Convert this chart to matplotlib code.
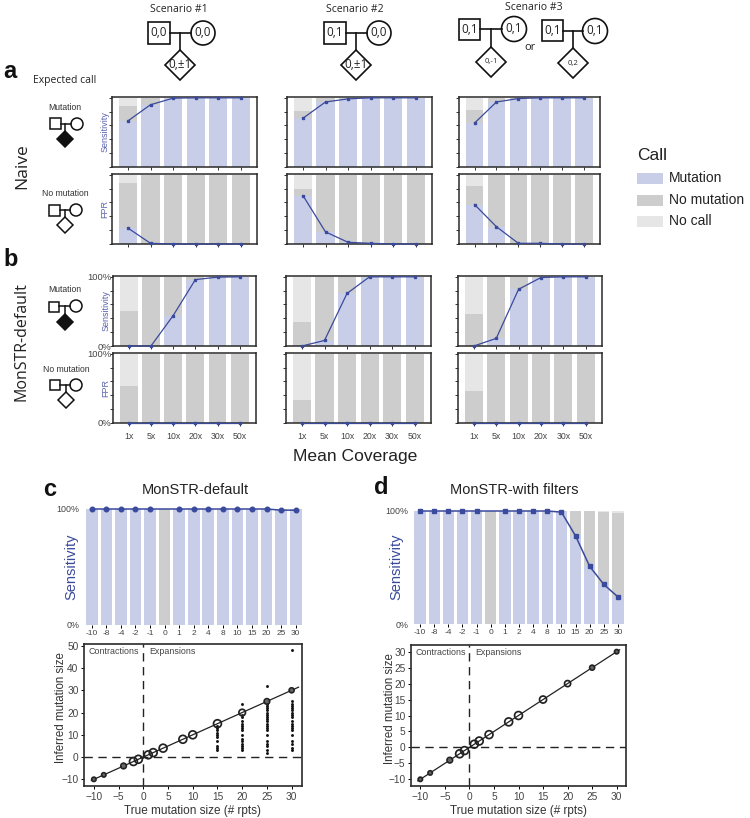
import numpy as np
from matplotlib import pyplot as plt
from matplotlib.patches import Rectangle, Circle, Polygon

W, H = 750, 818
BLUE = '#c9cee8'
GRAY = '#cdcdcd'
LIGHT = '#e6e6e6'
NAVY = '#3a4a9c'
TXT = '#444444'

coverage = ['1x', '5x', '10x', '20x', '30x', '50x']

# naive, sensitivity
naive_sens_1 = [0.667, 0.90, 0.995, 1.0, 1.0, 1.0]
naive_sens_2 = [0.705, 0.94, 0.985, 1.0, 1.0, 1.0]
naive_sens_3 = [0.635, 0.94, 0.99, 1.0, 1.0, 1.0]
naive_sens_nomut_1 = [0.218, 0.10, 0.005, 0, 0, 0]
naive_sens_nomut_2 = [0.105, 0.06, 0.015, 0, 0, 0]
naive_sens_nomut_3 = [0.195, 0.06, 0.01, 0, 0, 0]
# naive, FPR
naive_fpr_1 = [0.23, 0.01, 0, 0, 0, 0]
naive_fpr_2 = [0.70, 0.175, 0.025, 0.01, 0, 0]
naive_fpr_3 = [0.57, 0.25, 0.01, 0.01, 0, 0]
naive_fpr_nomut_1 = [0.65, 0.99, 1.0, 1.0, 1.0, 1.0]
naive_fpr_nomut_2 = [0.10, 0.825, 0.975, 0.99, 1.0, 1.0]
naive_fpr_nomut_3 = [0.27, 0.75, 0.99, 0.99, 1.0, 1.0]
# monstr default, sensitivity
mon_sens_1 = [0, 0, 0.44, 0.96, 0.995, 1.0]
mon_sens_2 = [0, 0.08, 0.76, 1.0, 1.0, 1.0]
mon_sens_3 = [0, 0.11, 0.82, 0.99, 1.0, 1.0]
mon_sens_nomut_1 = [0.51, 1.0, 0.56, 0.04, 0.005, 0]
mon_sens_nomut_2 = [0.35, 0.92, 0.24, 0, 0, 0]
mon_sens_nomut_3 = [0.46, 0.89, 0.18, 0.01, 0, 0]
# monstr default, FPR
mon_fpr = [0, 0, 0, 0, 0, 0]
mon_fpr_nomut_1 = [0.53, 1.0, 1.0, 1.0, 1.0, 1.0]
mon_fpr_nomut_2 = [0.33, 1.0, 1.0, 1.0, 1.0, 1.0]
mon_fpr_nomut_3 = [0.465, 1.0, 1.0, 1.0, 1.0, 1.0]

true_sizes = [-10, -8, -4, -2, -1, 0, 1, 2, 4, 8, 10, 15, 20, 25, 30]
sens_c = [1, 1, 1, 1, 1, np.nan, 1, 1, 1, 1, 1, 1, 1, 0.99, 0.99]
nomut_c = [0, 0, 0, 0, 0, 1, 0, 0, 0, 0, 0, 0, 0, 0.01, 0.01]
sens_d = [1, 1, 1, 1, 1, np.nan, 1, 1, 1, 1, 0.99, 0.78, 0.51, 0.35, 0.24]
nomut_d = [0, 0, 0, 0, 0, 1, 0, 0, 0, 0, 0.01, 0.22, 0.49, 0.645, 0.745]

ring_x = [-10, -8, -4, -2, -1, 1, 2, 4, 8, 10, 15, 20, 25, 30]
ring_n_c = [3, 3, 5, 10, 10, 10, 10, 10, 10, 10, 10, 7, 5, 4]
ring_n_d = [3, 3, 5, 10, 10, 10, 10, 10, 10, 10, 8, 6, 4, 3]

outlier_15 = [3, 4, 5, 7, 9, 10, 11, 12, 13, 14]
outlier_20 = [3, 4, 5, 6, 7, 8, 10, 12, 13, 14, 15, 16, 18, 19, 24]
outlier_25 = [2, 3, 5, 6, 7, 10, 12, 13, 14, 15, 16, 17, 18, 19, 20, 21, 22, 23, 24, 32]
outlier_30 = [3, 4, 6, 7, 10, 12, 13, 14, 15, 16, 18, 19, 20, 21, 22, 23, 24, 25, 48]

fig = plt.figure(figsize=(W / 100, H / 100), dpi=100)
plt.rcParams['font.family'] = ['Liberation Sans', 'DejaVu Sans']
OPEN = ['Open Sans', 'DejaVu Sans']


def px_axes(l, t, r, b):
    return fig.add_axes([l / W, 1 - b / H, (r - l) / W, (b - t) / H])


def stack_bars(ax, x, mut, nomut, width=0.8):
    mut = np.nan_to_num(np.array(mut, dtype=float))
    nomut = np.array(nomut, dtype=float)
    ax.bar(x, mut, width, color=BLUE)
    ax.bar(x, nomut, width, bottom=mut, color=GRAY)
    ax.bar(x, 1 - mut - nomut, width, bottom=mut + nomut, color=LIGHT)


def coverage_panel(box, line, nomut, ylabel=None, pct=False, xlab=False):
    ax = px_axes(*box)
    x = np.arange(len(coverage))
    stack_bars(ax, x, line, nomut)
    ax.plot(x, line, '-', color=NAVY, lw=0.9, marker='s', ms=1.9, clip_on=False, zorder=5)
    ax.set_xlim(-0.71, 5.73)
    ax.set_ylim(0, 1.012)
    ax.set_yticks(np.arange(0, 1.01, 0.2))
    ax.set_xticks(x)
    ax.tick_params(length=2, width=0.7, color='#333333', labelsize=6.3, labelcolor=TXT)
    ax.tick_params(axis='y', pad=-1)
    if pct:
        ax.set_yticklabels(['0%', '', '', '', '', '100%'], fontsize=6.8)
    else:
        ax.set_yticklabels([])
    if xlab:
        ax.set_xticklabels(coverage)
        ax.tick_params(axis='x', pad=4.5)
    else:
        ax.set_xticklabels([])
    for s in ax.spines.values():
        s.set_linewidth(1.1)
        s.set_color('#2a2a2a')
    if ylabel:
        ax.text(-0.05, 0.5, ylabel, rotation=90, transform=ax.transAxes, ha='center',
                va='center', color='#5a62ad', fontsize=6.5)
    return ax


cols_a = [(112, 257), (287, 432), (459, 600)]
cols_b = [(113, 256), (286, 431), (458, 602)]

naive_sens = [naive_sens_1, naive_sens_2, naive_sens_3]
naive_sens_nomut = [naive_sens_nomut_1, naive_sens_nomut_2, naive_sens_nomut_3]
naive_fpr = [naive_fpr_1, naive_fpr_2, naive_fpr_3]
naive_fpr_nomut = [naive_fpr_nomut_1, naive_fpr_nomut_2, naive_fpr_nomut_3]
mon_sens = [mon_sens_1, mon_sens_2, mon_sens_3]
mon_sens_nomut = [mon_sens_nomut_1, mon_sens_nomut_2, mon_sens_nomut_3]
mon_fpr_nomut = [mon_fpr_nomut_1, mon_fpr_nomut_2, mon_fpr_nomut_3]

for i in range(3):
    first = i == 0
    l, r = cols_a[i]
    coverage_panel((l, 97, r, 167), naive_sens[i], naive_sens_nomut[i], 'Sensitivity' if first else None)
    coverage_panel((l, 174, r, 244), naive_fpr[i], naive_fpr_nomut[i], 'FPR' if first else None)
    l, r = cols_b[i]
    coverage_panel((l, 276, r, 346), mon_sens[i], mon_sens_nomut[i], 'Sensitivity' if first else None, pct=first)
    coverage_panel((l, 353, r, 423), mon_fpr, mon_fpr_nomut[i], 'FPR' if first else None, pct=first, xlab=True)


def sens_panel(box, line, nomut, title, title_x, label_x, mark):
    ax = px_axes(*box)
    x = np.arange(len(true_sizes))
    stack_bars(ax, x, line, nomut)
    line = np.array(line, dtype=float)
    ok = ~np.isnan(line)
    ax.plot(x[ok], line[ok], '-', color=NAVY, lw=1.1, marker=mark, ms=3.3, clip_on=False, zorder=5)
    ax.set_xlim(-0.5, 14.5)
    ax.set_ylim(0, 1)
    ax.set_yticks([0, 1])
    ax.set_yticklabels(['0%', '100%'], fontsize=6.4, color=TXT)
    ax.set_xticks(x)
    ax.set_xticklabels(true_sizes, fontsize=6, color=TXT)
    ax.tick_params(axis='x', length=2, width=0.7, pad=1.5)
    ax.tick_params(axis='y', length=0, pad=3.5)
    for s in ax.spines.values():
        s.set_visible(False)
    fig.text(title_x / W, 1 - 490 / H, title, ha='center', va='center', fontsize=10.5, color='#222222')
    fig.text(label_x / W, 1 - 567 / H, 'Sensitivity', rotation=90, ha='center', va='center',
             fontsize=10.5, color=NAVY)


sens_panel((84.5, 509, 303, 625), sens_c, nomut_c, 'MonSTR-default', 195, 71, 'o')
sens_panel((413, 511, 625, 624), sens_d, nomut_d, 'MonSTR-with filters', 514, 396, 's')


def scatter_panel(box, xlim, ylim, yticks, rings, outliers, ylabel_x, fit_end):
    ax = px_axes(*box)
    ax.axhline(0, color='#222222', lw=1, dashes=(6, 4))
    ax.axvline(0, color='#222222', lw=1, dashes=(6, 4))
    ax.plot([-10.5, fit_end], [-10.5, fit_end], color='#222222', lw=0.9, zorder=2)
    ax.set_xlim(xlim)
    ax.set_ylim(ylim)
    for xv, yv in outliers:
        ax.plot([xv] * len(yv), yv, 'o', color='#111111', ms=2.1, mew=0, zorder=3)
    rings = np.array(rings, dtype=float)
    small = rings <= 5
    ax.scatter(ring_x, ring_x, s=rings * 3.2, facecolor='none', edgecolor='#222222', lw=1.25, zorder=4)
    ax.scatter(np.array(ring_x)[small], np.array(ring_x)[small], s=rings[small] * 1.8,
               facecolor='#666666', edgecolor='none', zorder=3)
    ax.set_xticks([-10, -5, 0, 5, 10, 15, 20, 25, 30])
    ax.set_yticks(yticks)
    ax.tick_params(length=2.5, width=0.7, labelsize=7.3, labelcolor=TXT, pad=1.5)
    for s in ax.spines.values():
        s.set_linewidth(1.2)
        s.set_color('#2a2a2a')
    ax.set_xlabel('True mutation size (# rpts)', fontsize=8.5, color='#333333', labelpad=2.5)
    ax.text((ylabel_x - box[0]) / (box[2] - box[0]), 0.55, 'Inferred mutation size', rotation=90,
            transform=ax.transAxes, ha='center', va='center', fontsize=8.3, color='#333333')
    ax.text(0.02, 0.945, 'Contractions', transform=ax.transAxes, fontsize=6.4, color=TXT, va='center')
    ax.text(0.3, 0.945, 'Expansions', transform=ax.transAxes, fontsize=6.4, color=TXT, va='center')


scatter_panel((84, 644, 302, 786), (-12, 32.1), (-13, 50.8), [-10, 0, 10, 20, 30, 40, 50], ring_n_c,
              [(15, outlier_15), (20, outlier_20), (25, outlier_25), (30, outlier_30)], 61, 31.4)
scatter_panel((411, 645, 626, 786), (-11.9, 31.9), (-12.1, 32.1), [-10, -5, 0, 5, 10, 15, 20, 25, 30],
              ring_n_d, [], 389.5, 30.6)

# overlay in pixel coordinates for the pedigrees and free text
ov = fig.add_axes([0, 0, 1, 1], zorder=10)
ov.set_xlim(0, W)
ov.set_ylim(H, 0)
ov.axis('off')
ov.patch.set_alpha(0)


def pedigree(sq_l, sq_t, sq, cx, cy, r, vx, dy, d, labels=None, filled=False, lw=1.2, fs=8.5, dfs=None):
    kw = dict(fc='white', ec='#111111', lw=lw)
    ov.add_patch(Rectangle((sq_l, sq_t), sq, sq, **kw))
    ov.add_patch(Circle((cx, cy), r, **kw))
    ov.plot([sq_l + sq, cx - r], [cy, cy], color='#111111', lw=lw)
    ov.plot([vx, vx], [cy, dy - d], color='#111111', lw=lw)
    ov.add_patch(Polygon([(vx - d, dy), (vx, dy - d), (vx + d, dy), (vx, dy + d)],
                         fc='#111111' if filled else 'white', ec='#111111', lw=lw))
    if labels:
        lab = dict(ha='center', va='center', family=OPEN, color='#222222')
        ov.text(sq_l + sq / 2, sq_t + sq / 2, labels[0], fontsize=fs, **lab)
        ov.text(cx, cy, labels[1], fontsize=fs, **lab)
        ov.text(vx, dy, labels[2], fontsize=dfs or fs, **lab)


pedigree(148, 22, 22, 203, 33, 12, 180, 65, 15, ['0,0', '0,0', '0,±1'])
pedigree(324, 22, 22, 379, 33, 12, 356, 65, 15, ['0,1', '0,0', '0,±1'])
pedigree(459, 19, 21, 514, 29, 12.5, 491, 62, 15, ['0,1', '0,1', '0,-1'], dfs=5.5)
pedigree(542, 20, 21, 595, 31, 12.5, 573, 63, 15, ['0,1', '0,1', '0,2'], dfs=5.5)
for sx, sy, name in [(179, 9, 'Scenario #1'), (355, 9, 'Scenario #2'), (534, 8, 'Scenario #3')]:
    ov.text(sx, sy, name, ha='center', va='center', fontsize=7.5, family=OPEN, color='#222222')
ov.text(530, 48, 'or', ha='center', va='center', fontsize=8, family=OPEN, color='#222222')

pedigree(50, 118, 11, 77, 124, 6, 65, 139, 8, filled=True, lw=1.1)
pedigree(49, 205, 11, 76, 210, 6, 65, 225, 8, lw=1.1)
pedigree(49, 302, 10, 76, 306, 6, 65, 322, 8, filled=True, lw=1.1)
pedigree(50, 380, 10, 76, 385, 6, 66, 400, 8, lw=1.1)
for lx, ly, name in [(65, 107, 'Mutation'), (65, 194, 'No mutation'), (65, 290, 'Mutation'), (66, 370, 'No mutation')]:
    ov.text(lx, ly, name, ha='center', va='center', fontsize=6.2, color='#333333')
ov.text(65, 81, 'Expected call', ha='center', va='center', fontsize=7.5, family=OPEN, color='#222222')

ov.text(22, 166, 'Naive', rotation=90, ha='center', va='center', fontsize=12.5, family=OPEN, color='#222222')
ov.text(22, 342, 'MonSTR-default', rotation=90, ha='center', va='center', fontsize=11.5, family=OPEN, color='#222222')
ov.text(355, 457, 'Mean Coverage', ha='center', va='center', fontsize=12.6, color='#222222')

for lx, ly, name in [(10, 71, 'a'), (11, 260, 'b'), (50, 489, 'c'), (381, 488, 'd')]:
    ov.text(lx, ly, name, ha='center', va='center', fontsize=17, fontweight='bold', color='#111111')

ov.text(637, 156, 'Call', va='center', fontsize=12.5, color='#222222')
for ly, col, name in [(178, BLUE, 'Mutation'), (200, GRAY, 'No mutation'), (221, LIGHT, 'No call')]:
    ov.add_patch(Rectangle((637, ly - 5.5), 26, 11, fc=col, ec='none'))
    ov.text(669, ly, name, va='center', fontsize=10, color='#222222')

fig.savefig('out.png', dpi=100)
